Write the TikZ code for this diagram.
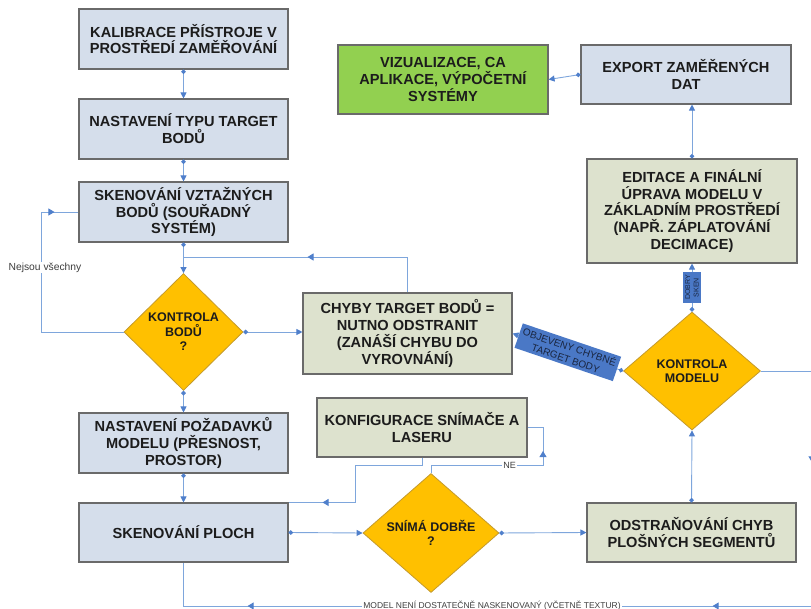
\documentclass[tikz,border=0pt]{standalone}
\usepackage{fontspec}
\setmainfont{Liberation Sans}
\usetikzlibrary{arrows.meta,shapes.geometric,decorations.markings}

\definecolor{boxblue}{HTML}{D5DEEB}
\definecolor{boxsage}{HTML}{DDE2CE}
\definecolor{boxgreen}{HTML}{92D050}
\definecolor{decide}{HTML}{FFC000}
\definecolor{decideedge}{HTML}{C49A2C}
\definecolor{edgegray}{HTML}{6A6A6A}
\definecolor{wirecol}{HTML}{7EA6DC}
\definecolor{wiretip}{HTML}{4F7FCB}
\definecolor{tagblue}{HTML}{4A78C6}
\definecolor{tagtext}{HTML}{1A2640}
\definecolor{ink}{HTML}{1C1C1C}

\tikzset{
  procbox/.style={rectangle, draw=edgegray, line width=1.1pt, text=ink, align=center,
    inner sep=0pt, font=\fontsize{14.6}{16.8}\selectfont\bfseries},
  bluebox/.style={procbox, fill=boxblue},
  sagebox/.style={procbox, fill=boxsage},
  greenbox/.style={procbox, fill=boxgreen},
  decision/.style={diamond, aspect=1, draw=decideedge, line width=0.8pt, fill=decide,
    text=ink, align=center, inner sep=0pt, font=\fontsize{12.5}{14.5}\selectfont\bfseries},
  wire/.style={draw=wirecol, line width=0.9pt},
  flow/.style={wire, {Circle[length=4.5pt,color=wiretip]}-{Triangle[length=6pt,width=6pt,color=wiretip]}},
  tipat/.style={postaction={decorate, decoration={markings,
    mark=at position #1 with {\arrow{Triangle[length=6pt,width=7pt,color=wiretip]}}}}},
  tagnode/.style={fill=tagblue, text=tagtext, align=center, inner xsep=3pt, inner ysep=2.5pt},
  note/.style={fill=white, text=ink!85, inner sep=1pt}
}

\begin{document}
\begin{tikzpicture}[x=1pt,y=-1pt]
\useasboundingbox (0,0) rectangle (811,609);
\clip (0,0) rectangle (811,609);

% left column
\node[bluebox, minimum width=209pt, minimum height=60pt] (kal) at (183.5,39)
  {KALIBRACE PŘÍSTROJE V\\PROSTŘEDÍ ZAMĚŘOVÁNÍ};
\node[bluebox, minimum width=209pt, minimum height=60pt] (typ) at (183.5,129)
  {NASTAVENÍ TYPU TARGET\\BODŮ};
\node[bluebox, minimum width=209pt, minimum height=60pt] (skv) at (183.5,212)
  {SKENOVÁNÍ VZTAŽNÝCH\\BODŮ (SOUŘADNÝ\\SYSTÉM)};
\node[decision, minimum width=119pt, minimum height=117pt] (kb) at (183.5,332)
  {KONTROLA\\BODŮ\\?};
\node[bluebox, minimum width=209pt, minimum height=60pt] (poz) at (183.5,443)
  {NASTAVENÍ POŽADAVKŮ\\MODELU (PŘESNOST,\\PROSTOR)};
\node[bluebox, minimum width=209pt, minimum height=59pt] (spl) at (183.5,532.5)
  {SKENOVÁNÍ PLOCH};

% middle column
\node[sagebox, minimum width=209pt, minimum height=81pt] (chy) at (407.5,333.5)
  {CHYBY TARGET BODŮ =\\NUTNO ODSTRANIT\\(ZANÁŠÍ CHYBU DO\\VYROVNÁNÍ)};
\node[sagebox, minimum width=210pt, minimum height=59pt] (kon) at (422,427.5)
  {KONFIGURACE SNÍMAČE A\\LASERU};
\node[decision, minimum width=136pt, minimum height=119pt] (sd) at (431,533)
  {SNÍMÁ DOBŘE\\?};
\node[greenbox, minimum width=210pt, minimum height=69pt] (viz) at (443,79.5)
  {VIZUALIZACE, CA\\APLIKACE, VÝPOČETNÍ\\SYSTÉMY};

% right column
\node[sagebox, minimum width=209pt, minimum height=59pt] (ods) at (691.5,532.5)
  {ODSTRAŇOVÁNÍ CHYB\\PLOŠNÝCH SEGMENTŮ};
\node[decision, minimum width=137pt, minimum height=118pt] (km) at (692,371)
  {KONTROLA\\MODELU};
\node[sagebox, minimum width=210pt, minimum height=104pt] (edi) at (692,211)
  {EDITACE A FINÁLNÍ\\ÚPRAVA MODELU V\\ZÁKLADNÍM PROSTŘEDÍ\\(NAPŘ. ZÁPLATOVÁNÍ\\DECIMACE)};
\node[bluebox, minimum width=210pt, minimum height=59pt] (exp) at (686,74.5)
  {EXPORT ZAMĚŘENÝCH\\DAT};

% straight flow connectors
\draw[flow] (kal.south) -- (typ.north);
\draw[flow] (typ.south) -- (skv.north);
\draw[flow] (skv.south) -- (kb.north);
\draw[flow] (kb.east) -- (kb.east -| chy.west);
\draw[flow] (kb.south) -- (poz.north);
\draw[flow] (poz.south) -- (spl.north);
\draw[flow] (spl.east) -- (sd.west);
\draw[flow] (sd.east) -- (ods.west);
\draw[flow] (ods.north) -- (km.south);
\draw[flow] (km.north) -- node[tagnode, sloped, font=\fontsize{7}{8.4}\selectfont] (dob) {DOBRY\\SKEN} (edi.south);
\draw[flow] (km.west) -- node[tagnode, sloped, font=\fontsize{10}{12}\selectfont] (obj) {OBJEVENY CHYBNÉ\\TARGET BODY} (chy.east);
\draw[flow] (edi.north) -- (edi.north |- exp.south);
\draw[flow] (exp.west) -- (viz.east);

% loop: not all reference points measured
\coordinate (lA) at (41,332);
\coordinate (lB) at (41,212);
\draw[wire, tipat=-24pt] (kb.west) -- (lA) -- (lB) -- (skv.west);
\node[note, font=\fontsize{10.3}{11}\selectfont] (nv) at (45,267.5) {Nejsou všechny};

% loop: faulty target points removed
\coordinate (jn) at (183.5,257);
\draw[wire, tipat=-124pt] (chy.north) |- (jn);

% sensor configuration back to surface scanning
\coordinate (kA) at (355,465);
\draw[wire, tipat=-34pt] (kon.south) |- (kA) |- (spl.north east);

% bad scan back to configuration
\coordinate (nA) at (543,465);
\draw[wire, tipat=-39pt] (sd.north) |- (nA) |- (kon.east);
\node[note, font=\fontsize{9}{10}\selectfont] (ne) at (509.5,465) {NE};

% model insufficiently scanned: back to surface scanning
\coordinate (rA) at (812,371);
\coordinate (rB) at (812,606);
\draw[wire, tipat=142.5pt, tipat=385.5pt, tipat=850.5pt]
  (km.east) -- (rA) -- (rB) -- (rB -| spl.south) -- (spl.south);
\node[note, font=\fontsize{8.5}{9}\selectfont] (mn) at (492,606)
  {MODEL NENÍ DOSTATEČNĚ NASKENOVANÝ (VČETNĚ TEXTUR)};
\end{tikzpicture}
\end{document}
